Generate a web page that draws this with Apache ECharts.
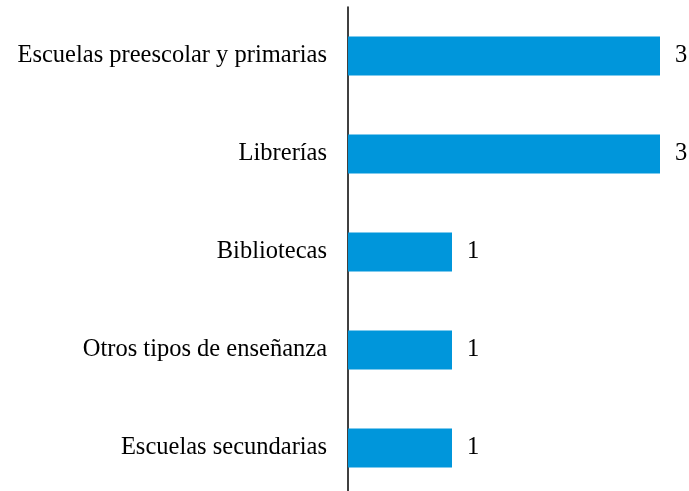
<!DOCTYPE html>
<html>
<head>
<meta charset="utf-8">
<script src="https://cdn.jsdelivr.net/npm/echarts@6/dist/echarts.min.js"></script>
<style>
  html, body { margin: 0; padding: 0; background: #fff; overflow: hidden; }
  #main { width: 689px; height: 500px; }
</style>
</head>
<body>
<div id="main"></div>
<script>
var categories = ['Escuelas preescolar y primarias', 'Librerías', 'Bibliotecas', 'Otros tipos de enseñanza', 'Escuelas secundarias']
var values = [3, 3, 1, 1, 1]

var myChart = echarts.init(document.getElementById('main'))

var font = '"Liberation Serif", "Times New Roman", serif'

var option = {
  backgroundColor: '#fff',
  animation: false,
  grid: {
    left: 348,
    top: 7,
    width: 312,
    height: 490
  },
  xAxis: {
    type: 'value',
    min: 0,
    max: 3,
    show: false
  },
  yAxis: {
    type: 'category',
    inverse: true,
    data: categories,
    axisLine: { show: true, lineStyle: { color: '#000', width: 1.5 } },
    axisTick: { show: false },
    axisLabel: {
      margin: 21,
      color: '#000',
      fontFamily: font,
      fontSize: 24.5
    }
  },
  series: [
    {
      type: 'bar',
      data: values,
      barWidth: 39,
      itemStyle: { color: '#0096db' },
      label: {
        show: true,
        position: 'right',
        distance: 15,
        color: '#000',
        fontFamily: font,
        fontSize: 24.5
      }
    }
  ]
}

myChart.setOption(option, true)
</script>
</body>
</html>
